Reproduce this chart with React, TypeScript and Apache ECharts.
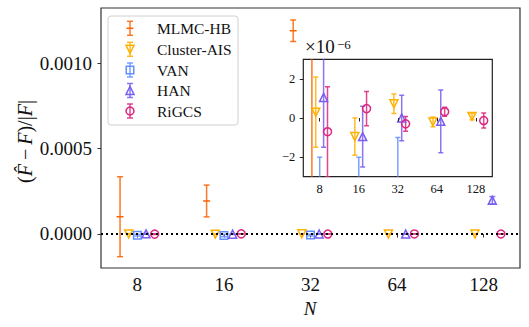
import React, { useEffect, useRef } from 'react';
import * as echarts from 'echarts';

// ---------- data ----------
const N_VALUES = [8, 16, 32, 64, 128];
const SERIES_NAMES = ['MLMC-HB', 'Cluster-AIS', 'VAN', 'HAN', 'RiGCS'];
const COLORS = ['#FE6100', '#FFB000', '#648FFF', '#785EF0', '#DC267F'];
const DODGE = [-0.2, -0.1, 0, 0.1, 0.2]; // log2 offset of each method around N

const mlmcMean = [1.01e-4, 1.93e-4, 1.189e-3, null, null];
const mlmcErr = [2.34e-4, 0.93e-4, 0.63e-4, null, null];
const clusterMean = [0.3e-6, -0.95e-6, 0.73e-6, -0.2e-6, 0.08e-6];
const clusterErr = [1.8e-6, 0.95e-6, 0.5e-6, 0.25e-6, 0.17e-6];
const vanMean = [-7e-6, -9e-6, -6e-6, null, null];
const vanErr = [5e-6, 7e-6, 5e-6, null, null];
const hanMean = [1.05e-6, -0.95e-6, 0.0, -0.17e-6, 1.97e-4];
const hanErr = [2.55e-6, 1.55e-6, 1.16e-6, 1.6e-6, 2.2e-5];
const rigcsMean = [-0.7e-6, 0.48e-6, -0.3e-6, 0.32e-6, -0.13e-6];
const rigcsErr = [2.3e-6, 0.87e-6, 0.38e-6, 0.23e-6, 0.38e-6];

const MAIN_Y_TICKS = [0, 0.0005, 0.001];
const INSET_Y_TICKS = [-2e-6, 0, 2e-6];
const X_TICKS = N_VALUES.map((n) => Math.log2(n));

const MEANS = [mlmcMean, clusterMean, vanMean, hanMean, rigcsMean];
const ERRS = [mlmcErr, clusterErr, vanErr, hanErr, rigcsErr];

const FONT = 'Liberation Serif';

function rgba(hex: string, a: number) {
  const r = parseInt(hex.slice(1, 3), 16);
  const g = parseInt(hex.slice(3, 5), 16);
  const b = parseInt(hex.slice(5, 7), 16);
  return `rgba(${r},${g},${b},${a})`;
}

function seriesData(i: number) {
  const out: number[][] = [];
  N_VALUES.forEach((n, k) => {
    const m = MEANS[i][k];
    const e = ERRS[i][k];
    if (m === null || m === undefined) return;
    out.push([Math.log2(n) + DODGE[i], m as number, (e as number) || 0]);
  });
  return out;
}

const makeErr = (color: string, capHalf: number, centerTick: boolean) => (params: any, api: any) => {
  const x = api.value(0);
  const y = api.value(1);
  const e = api.value(2);
  const p0 = api.coord([x, y + e]);
  const p1 = api.coord([x, y - e]);
  const pc = api.coord([x, y]);
  const style = { stroke: rgba(color, 0.85), lineWidth: 1.5, fill: null };
  const children: any[] = [
    { type: 'line', shape: { x1: p0[0], y1: p0[1], x2: p1[0], y2: p1[1] }, style },
    { type: 'line', shape: { x1: p0[0] - capHalf, y1: p0[1], x2: p0[0] + capHalf, y2: p0[1] }, style },
    { type: 'line', shape: { x1: p1[0] - capHalf, y1: p1[1], x2: p1[0] + capHalf, y2: p1[1] }, style },
  ];
  if (centerTick) {
    children.push({
      type: 'line',
      shape: { x1: pc[0] - 3.5, y1: pc[1], x2: pc[0] + 3.5, y2: pc[1] },
      style: { stroke: color, lineWidth: 1.5 },
    });
  }
  return { type: 'group', children };
};

const SYMBOLS = [null, 'triangle', 'rect', 'triangle', 'circle'];
const ROTATE = [0, 180, 0, 0, 0];

function serifText(x: number, y: number, text: string, size: number, align: string, vAlign: string, italic = false, extra: any = {}) {
  return {
    type: 'text',
    x,
    y,
    z: 40,
    ...extra,
    style: {
      text: `{t|${text}}`,
      align,
      verticalAlign: vAlign,
      rich: { t: { fontFamily: FONT, fontSize: size, fontStyle: italic ? 'italic' : 'normal', fill: '#111' } },
    },
  };
}

export default function App() {
  const ref = useRef<HTMLDivElement>(null);
  useEffect(() => {
    if (!ref.current) return;
    const chart = echarts.init(ref.current, null, { renderer: 'svg' });
    const xMin = 2.58;
    const xMax = 7.42;

    const axisLabelBase = { fontFamily: FONT, color: '#111' };

    const series: any[] = [];
    [0, 1].forEach((g) => {
      SERIES_NAMES.forEach((name, i) => {
        const data = seriesData(i);
        series.push({
          type: 'custom',
          name,
          xAxisIndex: g,
          yAxisIndex: g,
          clip: g === 1,
          z: g === 1 ? 12 : 3,
          renderItem: makeErr(COLORS[i], g === 1 ? 2.5 : 3, i === 0),
          data,
          silent: true,
        });
        if (SYMBOLS[i]) {
          series.push({
            type: 'scatter',
            name,
            xAxisIndex: g,
            yAxisIndex: g,
            clip: true,
            z: g === 1 ? 13 : 4,
            symbol: SYMBOLS[i],
            symbolRotate: ROTATE[i],
            symbolSize: SYMBOLS[i] === 'rect' ? 7.5 : 8,
            itemStyle: { color: 'rgba(0,0,0,0)', borderColor: COLORS[i], borderWidth: 1.5, opacity: 1 },
            data: data.map((d) => [d[0], d[1]]),
            silent: true,
          });
        }
      });
      // zero reference line
      series.push({
        type: 'line',
        xAxisIndex: g,
        yAxisIndex: g,
        data: [],
        z: g === 1 ? 14 : 2,
        markLine: {
          silent: true,
          symbol: ['none', 'none'],
          label: { show: false },
          lineStyle: { color: '#000', type: [2, 3], width: 2 },
          data: [{ yAxis: 0 }],
          animation: false,
        },
      });
    });

    const legendRows = [28.3, 49.3, 70, 90.5, 111];
    const lx = 130;
    const legendEls: any[] = [
      {
        type: 'rect',
        shape: { x: 108, y: 16, width: 130, height: 109, r: 3 },
        style: { fill: 'rgba(255,255,255,0.85)', stroke: '#d0d0d0', lineWidth: 1 },
        z: 30,
      },
    ];
    SERIES_NAMES.forEach((name, i) => {
      const y = legendRows[i];
      const c = COLORS[i];
      const st = { stroke: rgba(c, 0.85), lineWidth: 1.5 };
      legendEls.push(
        { type: 'line', shape: { x1: lx, y1: y - 7, x2: lx, y2: y + 7 }, style: st, z: 31 },
        { type: 'line', shape: { x1: lx - 3, y1: y - 7, x2: lx + 3, y2: y - 7 }, style: st, z: 31 },
        { type: 'line', shape: { x1: lx - 3, y1: y + 7, x2: lx + 3, y2: y + 7 }, style: st, z: 31 }
      );
      const mst = { stroke: c, lineWidth: 1.5, fill: 'rgba(0,0,0,0)' };
      if (i === 0) {
        legendEls.push({ type: 'line', shape: { x1: lx - 3.5, y1: y, x2: lx + 3.5, y2: y }, style: { stroke: c, lineWidth: 1.5 }, z: 32 });
      } else if (i === 1) {
        legendEls.push({ type: 'polygon', shape: { points: [[lx - 4, y - 4], [lx + 4, y - 4], [lx, y + 4]] }, style: mst, z: 32 });
      } else if (i === 2) {
        legendEls.push({ type: 'rect', shape: { x: lx - 3.75, y: y - 3.75, width: 7.5, height: 7.5 }, style: mst, z: 32 });
      } else if (i === 3) {
        legendEls.push({ type: 'polygon', shape: { points: [[lx - 4, y + 4], [lx + 4, y + 4], [lx, y - 4]] }, style: mst, z: 32 });
      } else {
        legendEls.push({ type: 'circle', shape: { cx: lx, cy: y, r: 4 }, style: mst, z: 32 });
      }
      legendEls.push(serifText(157, y, name, 15.5, 'left', 'middle'));
    });

    const option: any = {
      animation: false,
      grid: [
        { left: 101, top: 8, width: 419, height: 260, show: true, borderColor: '#333', borderWidth: 1.2, backgroundColor: '#fff' },
        { left: 303.3, top: 59.3, width: 189, height: 117.4, show: true, borderColor: '#222', borderWidth: 1.2, backgroundColor: '#fff', z: 10 },
      ],
      xAxis: [
        {
          type: 'value', gridIndex: 0, min: xMin, max: xMax,
          splitLine: { show: false },
          axisLine: { show: false },
          axisTick: { show: true, inside: false, length: 3.5, customValues: X_TICKS, lineStyle: { color: '#333', width: 1 } },
          axisLabel: { ...axisLabelBase, fontSize: 19, margin: 7, customValues: X_TICKS, formatter: (v: number) => String(Math.round(Math.pow(2, v))) },
        },
        {
          type: 'value', gridIndex: 1, min: xMin, max: xMax, z: 15,
          splitLine: { show: false },
          axisLine: { show: false },
          axisTick: { show: true, inside: false, length: 3.5, customValues: X_TICKS, lineStyle: { color: '#222', width: 1 } },
          axisLabel: { ...axisLabelBase, fontSize: 12.5, margin: 6, customValues: X_TICKS, formatter: (v: number) => String(Math.round(Math.pow(2, v))) },
        },
      ],
      yAxis: [
        {
          type: 'value', gridIndex: 0, min: -0.000199, max: 0.001322,
          splitLine: { show: false },
          axisLine: { show: false },
          axisTick: { show: true, inside: false, length: 3.5, customValues: MAIN_Y_TICKS, lineStyle: { color: '#333', width: 1 } },
          axisLabel: { ...axisLabelBase, fontSize: 19, margin: 9, customValues: MAIN_Y_TICKS, formatter: (v: number) => v.toFixed(4) },
        },
        {
          type: 'value', gridIndex: 1, min: -3e-6, max: 3e-6, z: 15,
          splitLine: { show: false },
          axisLine: { show: false },
          axisTick: { show: true, inside: false, length: 3.5, customValues: INSET_Y_TICKS, lineStyle: { color: '#222', width: 1 } },
          axisLabel: {
            ...axisLabelBase, fontSize: 12.5, margin: 8, customValues: INSET_Y_TICKS,
            formatter: (v: number) => {
              const k = Math.round(v * 1e6);
              return k < 0 ? '\u2212' + -k : String(k);
            },
          },
        },
      ],
      series,
      graphic: [
        ...legendEls,
        serifText(305, 56, '\u00d710', 19, 'left', 'bottom'),
        serifText(337, 50.5, '\u22126', 13, 'left', 'bottom'),
        serifText(310, 308, 'N', 19, 'center', 'middle', true),
        {
          type: 'text', x: 25, y: 141.5, rotation: Math.PI / 2, z: 40,
          style: {
            text: '{n|(}{i|F\u0302}{n|\u2009\u2212\u2009}{i|F}{n|)/|}{i|F}{n||}',
            align: 'center', verticalAlign: 'middle',
            rich: {
              n: { fontFamily: FONT, fontSize: 20, fill: '#111' },
              i: { fontFamily: FONT, fontStyle: 'italic', fontSize: 20, fill: '#111' },
            },
          },
        },
      ],
    };
    chart.setOption(option);
    return () => chart.dispose();
  }, []);
  return <div ref={ref} style={{ width: 529, height: 327, position: 'absolute', left: 0, top: 0 }} />;
}
